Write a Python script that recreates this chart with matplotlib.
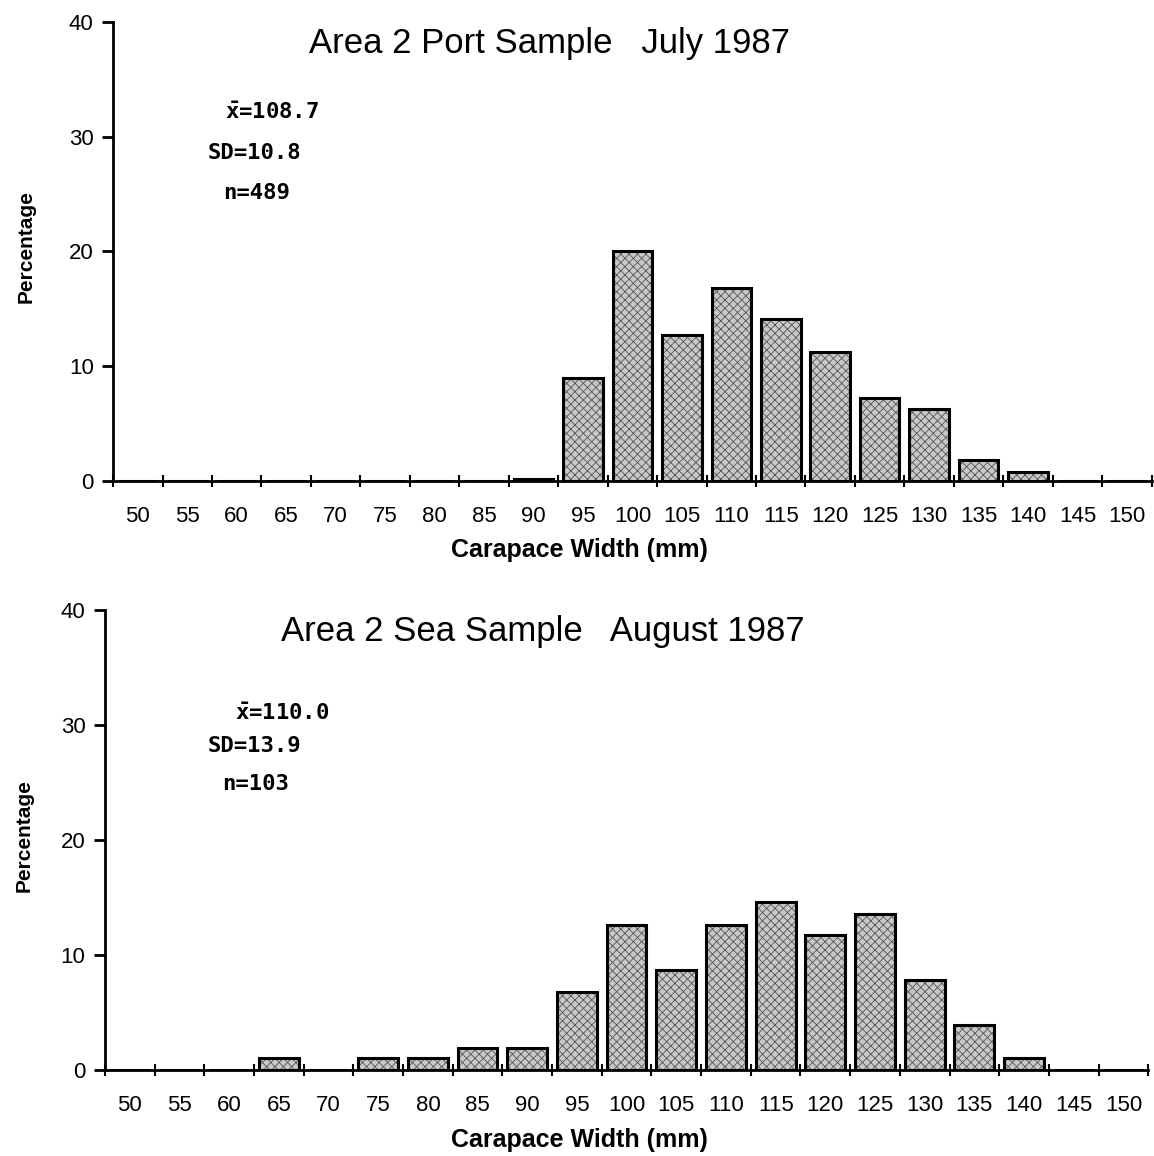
import matplotlib
matplotlib.use('Agg')
from matplotlib import pyplot as plt
import numpy as np

# Data (percentages per 5 mm carapace-width class)
widths = [50, 55, 60, 65, 70, 75, 80, 85, 90, 95, 100, 105, 110, 115, 120,
          125, 130, 135, 140, 145, 150]
port_pct = [0, 0, 0, 0, 0, 0, 0, 0, 0.2, 9.0, 20.0, 12.7, 16.8, 14.1, 11.2,
            7.2, 6.3, 1.8, 0.8, 0, 0]
sea_pct = [0, 0, 0, 1.0, 0, 1.0, 1.0, 1.9, 1.9, 6.8, 12.6, 8.7, 12.6, 14.6,
           11.7, 13.6, 7.8, 3.9, 1.0, 0, 0]
titles = ['Area 2 Port Sample   July 1987', 'Area 2 Sea Sample   August 1987']
stats_port = [r'$\bar{\mathbf{x}}$=108.7', 'SD=10.8', 'n=489']
stats_sea = [r'$\bar{\mathbf{x}}$=110.0', 'SD=13.9', 'n=103']

plt.rcParams['font.family'] = ['Liberation Sans', 'DejaVu Sans']
plt.rcParams['mathtext.fontset'] = 'custom'
plt.rcParams['mathtext.bf'] = 'DejaVu Sans Mono:bold'
plt.rcParams['mathtext.rm'] = 'DejaVu Sans Mono:bold'
plt.rcParams['hatch.linewidth'] = 0.6

fig = plt.figure(figsize=(11.54, 11.56), dpi=100)
ax1 = fig.add_axes([0.098, 0.584, 0.900, 0.397])
ax2 = fig.add_axes([0.091, 0.0744, 0.904, 0.398])


def draw_panel(ax, pct, title, stats, stat_pos, xlab_x, ylab_x):
    x = np.arange(len(widths))
    ax.bar(x, pct, width=0.8, color='#c8c8c8', edgecolor='#555555',
           hatch='xxxx', linewidth=0)
    ax.bar(x, pct, width=0.8, fill=False, edgecolor='black', linewidth=2.2)
    ax.set_xlim(-0.5, len(widths) - 0.5)
    ax.set_ylim(0, 40)
    ax.set_yticks([0, 10, 20, 30, 40])
    ax.tick_params(axis='y', direction='out', length=8, width=2,
                   labelsize=16, pad=6)
    # ticks at bin edges, labels at bin centres
    ax.set_xticks(np.arange(len(widths) + 1) - 0.5)
    ax.set_xticklabels([])
    ax.set_xticks(x, minor=True)
    ax.set_xticklabels([str(w) for w in widths], minor=True)
    ax.tick_params(axis='x', which='major', direction='inout', length=8,
                   width=1.5)
    ax.tick_params(axis='x', which='minor', length=0, labelsize=16, pad=18)
    for s in ['top', 'right']:
        ax.spines[s].set_visible(False)
    ax.spines['left'].set_linewidth(2)
    ax.spines['bottom'].set_linewidth(2)
    ax.set_xlabel('Carapace Width (mm)', fontsize=18, fontweight='bold')
    ax.xaxis.set_label_coords(xlab_x, -0.125)
    ax.set_ylabel('Percentage', fontsize=15, fontweight='bold')
    ax.yaxis.set_label_coords(ylab_x, 0.51)
    ax.text(0.42, 0.952, title, transform=ax.transAxes, fontsize=25,
            ha='center', va='center')
    for txt, (px, py) in zip(stats, stat_pos):
        ax.text(px, py, txt, transform=ax.transAxes, fontsize=16,
                fontweight='bold', family='DejaVu Sans Mono',
                ha='center', va='center')


draw_panel(ax1, port_pct, titles[0], stats_port,
           [(0.153, 0.804), (0.136, 0.715), (0.138, 0.627)], 0.449, -0.075)
draw_panel(ax2, sea_pct, titles[1], stats_sea,
           [(0.170, 0.776), (0.143, 0.704), (0.144, 0.622)], 0.455, -0.068)

plt.savefig('out.png', dpi=100)
plt.close()
